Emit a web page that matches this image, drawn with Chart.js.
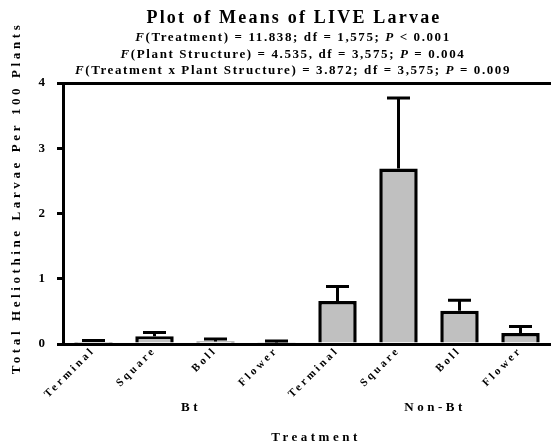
<!DOCTYPE html>
<html><head><meta charset="utf-8">
<script src="https://cdn.jsdelivr.net/npm/chart.js@4"></script>
<style>html,body{margin:0;padding:0;background:#fff}#wrap{width:551px;height:445px;position:relative}</style>
</head><body><div id="wrap"><canvas id="c"></canvas></div>
<script>
const categories = ['Terminal','Square','Boll','Flower','Terminal','Square','Boll','Flower'];
const groups = ['Bt','Non-Bt'];
const groupCenters = [1.5, 5.5];
const means = [0.03, 0.12, 0.04, 0.02, 0.66, 2.69, 0.51, 0.17];
const errors = [0.025, 0.055, 0.035, 0.025, 0.22, 1.08, 0.16, 0.10];
const yTicks = [0, 1, 2, 3, 4];
const titleText = 'Plot of Means of LIVE Larvae';
const statLines = [
  [['F', 1], ['(Treatment) = 11.838; df = 1,575; ', 0], ['P', 1], [' < 0.001', 0]],
  [['F', 1], ['(Plant Structure) = 4.535, df = 3,575; ', 0], ['P', 1], [' = 0.004', 0]],
  [['F', 1], ['(Treatment x Plant Structure) = 3.872; df = 3,575; ', 0], ['P', 1], [' = 0.009', 0]]
];
const yTitle = 'Total Heliothine Larvae Per 100 Plants';
const xTitle = 'Treatment';

const SERIF = '"Liberation Serif", "Times New Roman", serif';

function drawRich(ctx, segs, cx, y, size, spacing) {
  ctx.save();
  ctx.letterSpacing = spacing + 'px';
  ctx.textBaseline = 'middle';
  ctx.textAlign = 'left';
  ctx.fillStyle = '#000';
  let total = 0;
  const widths = segs.map(s => {
    ctx.font = (s[1] ? 'italic bold ' : 'bold ') + size + 'px ' + SERIF;
    const w = ctx.measureText(s[0]).width;
    total += w;
    return w;
  });
  let x = cx - total / 2;
  segs.forEach((s, i) => {
    ctx.font = (s[1] ? 'italic bold ' : 'bold ') + size + 'px ' + SERIF;
    ctx.fillText(s[0], x, y);
    x += widths[i];
  });
  ctx.restore();
}

const textPlugin = {
  id: 'texts',
  beforeLayout(chart) { chart.ctx.letterSpacing = '3px'; },
  beforeDraw(chart) { chart.ctx.letterSpacing = '3px'; },
  afterDraw(chart) {
    const ctx = chart.ctx;
    drawRich(ctx, [[titleText, 0]], 294, 18, 18, 2.2);
    statLines.forEach((l, i) => drawRich(ctx, l, 293, 38 + i * 16.5, 13, 1.6));
    const xs = chart.scales.x;
    groups.forEach((g, i) => drawRich(ctx, [[g, 0]], xs.getPixelForValue(groupCenters[i]) + 6, 408, 13, 3.5));
    drawRich(ctx, [[xTitle, 0]], 316, 438, 13, 3.5);
    ctx.save();
    ctx.translate(17, 198);
    ctx.rotate(-Math.PI / 2);
    drawRich(ctx, [[yTitle, 0]], 0, 0, 13, 3.6);
    ctx.restore();
  }
};

const errorPlugin = {
  id: 'errbars',
  afterDatasetsDraw(chart) {
    const ctx = chart.ctx;
    const ys = chart.scales.y;
    const meta = chart.getDatasetMeta(0);
    ctx.save();
    ctx.strokeStyle = '#000';
    ctx.lineWidth = 3;
    meta.data.forEach((bar, i) => {
      const top = ys.getPixelForValue(means[i] + errors[i]);
      const x = bar.x;
      ctx.beginPath();
      ctx.moveTo(x, bar.y);
      ctx.lineTo(x, top);
      ctx.moveTo(x - 11.5, top);
      ctx.lineTo(x + 11.5, top);
      ctx.stroke();
    });
    ctx.restore();
  }
};

new Chart(document.getElementById('c'), {
  type: 'bar',
  data: {
    labels: categories,
    datasets: [{
      data: means,
      backgroundColor: '#c0c0c0',
      borderColor: '#000',
      borderWidth: 3.5,
      barPercentage: 0.63,
      categoryPercentage: 1
    }]
  },
  options: {
    responsive: true,
    maintainAspectRatio: false,
    animation: false,
    layout: { padding: { top: 83, right: 0, bottom: 0, left: 0 } },
    plugins: { legend: { display: false }, tooltip: { enabled: false }, title: { display: false } },
    scales: {
      x: {
        grid: { display: false, drawTicks: false },
        border: { display: true, color: '#000', width: 3 },
        ticks: {
          minRotation: 45, maxRotation: 45, padding: 0,
          color: '#000',
          font: { family: SERIF, weight: 'bold', size: 11 }
        },
        afterFit(s) { s.height = 101; }
      },
      y: {
        min: 0, max: 4,
        afterBuildTicks(s) { s.ticks = yTicks.map(v => ({ value: v })); },
        grid: {
          drawOnChartArea: true, drawTicks: true, tickLength: 6,
          color: c => (c.tick && c.tick.value === 4) ? '#000' : 'rgba(0,0,0,0)',
          tickColor: '#000', lineWidth: 3
        },
        border: { display: true, color: '#000', width: 3 },
        ticks: {
          padding: 9, color: '#000',
          font: { family: SERIF, weight: 'bold', size: 13 }
        },
        afterFit(s) { s.width = 63; }
      }
    }
  },
  plugins: [textPlugin, errorPlugin]
});
</script></body></html>
